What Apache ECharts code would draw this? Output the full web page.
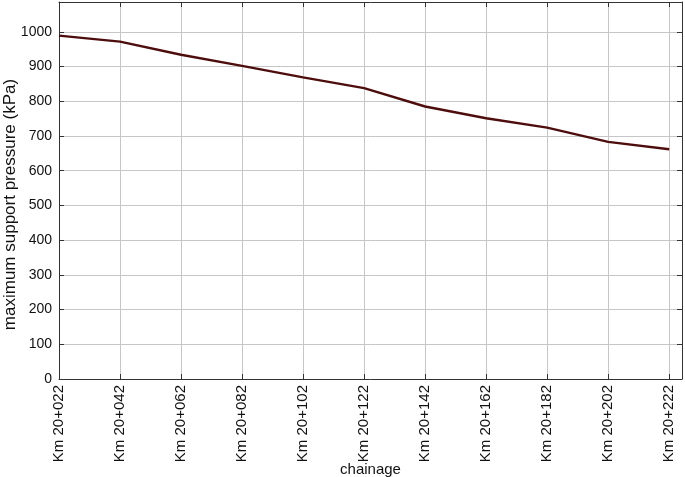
<!DOCTYPE html>
<html>
<head>
<meta charset="utf-8">
<script src="https://cdn.jsdelivr.net/npm/echarts@6/dist/echarts.min.js"></script>
<style>
  html, body { margin: 0; padding: 0; background: #fff; }
  #chart { width: 685px; height: 477px; }
</style>
</head>
<body>
<div id="chart"></div>
<script>
const chainages = ['Km 20+022', 'Km 20+042', 'Km 20+062', 'Km 20+082', 'Km 20+102', 'Km 20+122',
  'Km 20+142', 'Km 20+162', 'Km 20+182', 'Km 20+202', 'Km 20+222'];
const pressure = [989, 972, 934, 902, 869, 838, 785, 751, 724, 683, 662];
const pressureTicks = [0, 100, 200, 300, 400, 500, 600, 700, 800, 900, 1000];

const font = 'Liberation Sans, Arial, sans-serif';
const frame = { onZero: false, lineStyle: { color: '#333', width: 1 } };
const xTicks = { show: true, inside: true, length: 5, lineStyle: { color: '#333' },
  customValues: chainages.map((_, i) => i) };
const yTicks = { show: true, inside: true, length: 5, lineStyle: { color: '#333' },
  customValues: pressureTicks };

const chart = echarts.init(document.getElementById('chart'));
chart.setOption({
  animation: false,
  grid: { left: 59, right: 3, top: 2, bottom: 98, outerBoundsMode: 'none' },
  xAxis: [
    {
      type: 'value',
      min: 0,
      max: 10.21,
      interval: 1,
      axisLine: frame,
      axisTick: xTicks,
      splitLine: { show: true, lineStyle: { color: '#c6c6c6' } },
      axisLabel: {
        rotate: 90,
        color: '#111',
        fontFamily: font,
        fontSize: 15,
        margin: 6,
        showMaxLabel: false,
        formatter: v => Number.isInteger(v) ? chainages[v] : ''
      },
      name: 'chainage',
      nameLocation: 'middle',
      nameGap: 83,
      nameMoveOverlap: false,
      nameTextStyle: { color: '#111', fontFamily: font, fontSize: 15 }
    },
    {
      type: 'value', position: 'top', min: 0, max: 10.21, interval: 1,
      axisLine: frame, axisTick: xTicks, axisLabel: { show: false }, splitLine: { show: false }
    }
  ],
  yAxis: [
    {
      type: 'value',
      min: 0,
      max: 1086,
      interval: 100,
      axisLine: frame,
      axisTick: yTicks,
      splitLine: { show: true, lineStyle: { color: '#c6c6c6' } },
      axisLabel: {
        color: '#111', fontFamily: font, fontSize: 14, margin: 7,
        showMaxLabel: false,
        formatter: v => v % 100 === 0 ? String(v) : ''
      },
      name: 'maximum support pressure (kPa)',
      nameLocation: 'middle',
      nameGap: 40,
      nameMoveOverlap: false,
      nameTextStyle: { color: '#111', fontFamily: font, fontSize: 17, padding: [0, 28, 0, 0] }
    },
    {
      type: 'value', position: 'right', min: 0, max: 1086, interval: 100,
      axisLine: frame, axisTick: yTicks,
      axisLabel: { show: false }, splitLine: { show: false }
    }
  ],
  series: [{
    type: 'line',
    data: pressure.map((p, i) => [i, p]),
    showSymbol: false,
    lineStyle: { color: '#4e0d0d', width: 2.4 }
  }]
});
</script>
</body>
</html>
